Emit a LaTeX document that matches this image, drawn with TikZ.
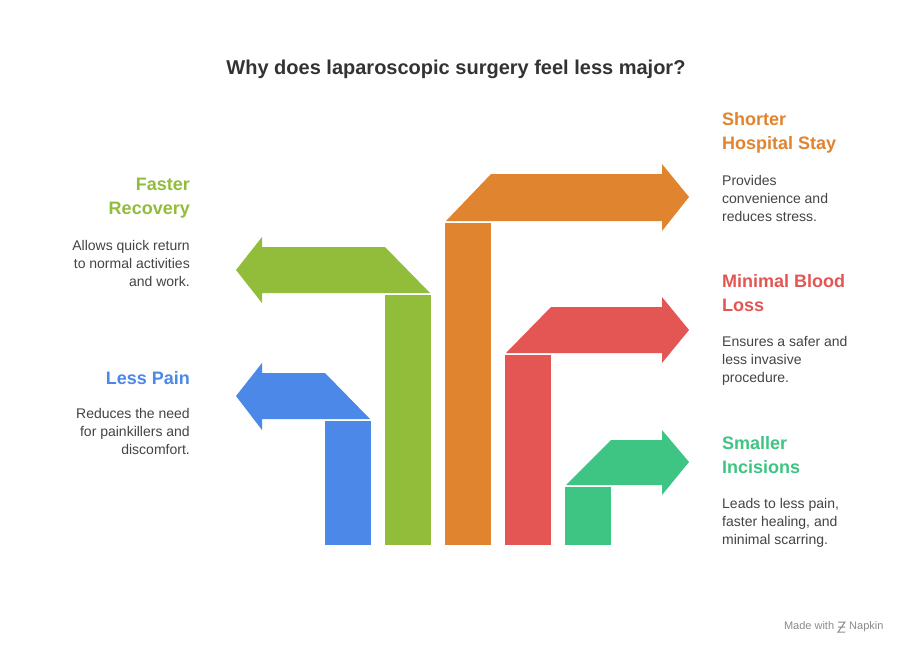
\documentclass[tikz,border=0pt]{standalone}
\usepackage{fontspec}
\setmainfont{Liberation Sans}
\begin{document}
\begin{tikzpicture}[x=1pt,y=-1pt,
  hd/.style={font=\fontsize{18}{24}\selectfont\bfseries,inner sep=0pt},
  ds/.style={font=\fontsize{14}{18}\selectfont,text=txt,inner sep=0pt},
  lft/.style={align=right,anchor=north east},
  rgt/.style={align=left,anchor=north west}]
\definecolor{cb}{HTML}{4C88E8}
\definecolor{cg}{HTML}{91BD3A}
\definecolor{co}{HTML}{E08430}
\definecolor{cr}{HTML}{E35653}
\definecolor{ct}{HTML}{3EC583}
\definecolor{txt}{HTML}{444444}
\useasboundingbox[fill=white] (0,0) rectangle (912,654);
\node[font=\fontsize{20}{24}\selectfont\bfseries,text=black!80] (title) at (456,69) {Why does laparoscopic surgery feel less major?};
% blue
\fill[cb] (325,421) rectangle (371,545);
\fill[cb] (262,373) -- (325,373) -- (370,419) -- (262,419) -- (262,430) -- (236,396) -- (262,363) -- cycle;
% green
\fill[cg] (385,295) rectangle (431,545);
\fill[cg] (262,247) -- (385,247) -- (430,293) -- (262,293) -- (262,303) -- (236,270) -- (262,237) -- cycle;
% orange
\fill[co] (445,223) rectangle (491,545);
\fill[co] (446,221) -- (491,174) -- (662,174) -- (662,164) -- (689,197) -- (662,231) -- (662,221) -- cycle;
% red
\fill[cr] (505,355) rectangle (551,545);
\fill[cr] (506,353) -- (551,307) -- (662,307) -- (662,297) -- (689,330) -- (662,363) -- (662,353) -- cycle;
% teal
\fill[ct] (565,487) rectangle (611,545);
\fill[ct] (566,485) -- (611,440) -- (662,440) -- (662,430) -- (689,462) -- (662,495) -- (662,485) -- cycle;
% texts
\node[hd,lft,text=cg] (h1) at (190,178) {Faster\\Recovery};
\node[ds,lft] (d1) at (190,240) {Allows quick return\\to normal activities\\and work.};
\node[hd,lft,text=cb] (h2) at (190,371) {Less Pain};
\node[ds,lft] (d2) at (190,408) {Reduces the need\\for painkillers and\\discomfort.};
\node[hd,rgt,text=co] (h3) at (722,112) {Shorter\\Hospital Stay};
\node[ds,rgt] (d3) at (722,175) {Provides\\convenience and\\reduces stress.};
\node[hd,rgt,text=cr] (h4) at (722,274) {Minimal Blood\\Loss};
\node[ds,rgt] (d4) at (722,336) {Ensures a safer and\\less invasive\\procedure.};
\node[hd,rgt,text=ct] (h5) at (722,436) {Smaller\\Incisions};
\node[ds,rgt] (d5) at (722,498) {Leads to less pain,\\faster healing, and\\minimal scarring.};
\node[font=\fontsize{11}{13}\selectfont,text=black!45,anchor=east] (wm) at (887,627) {Made with \hspace{12pt}Napkin};
\draw[black!45,line width=1pt] (838,622) -- (845,622) -- (838,632) -- (845,632) (838,627) -- (845,627);
\end{tikzpicture}
\end{document}
